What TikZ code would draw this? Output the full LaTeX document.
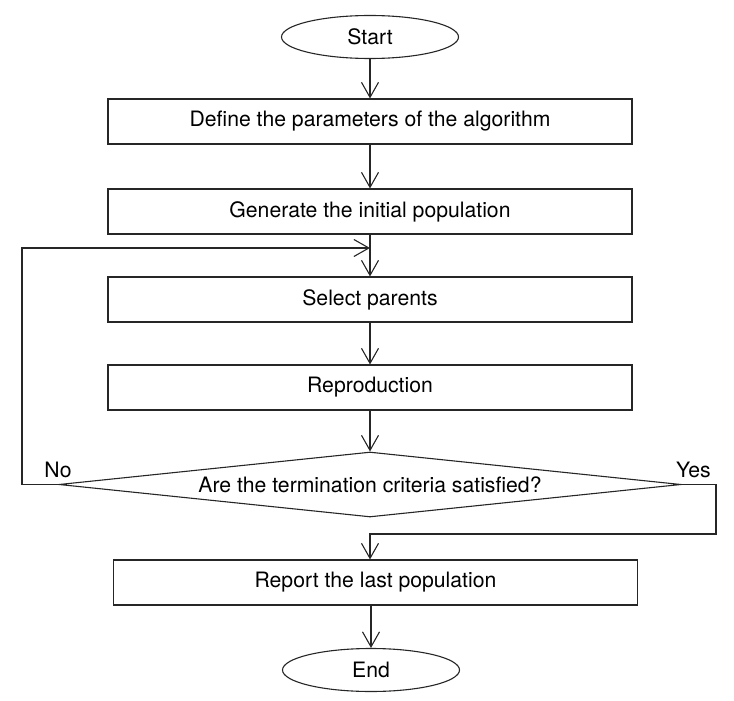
\documentclass[tikz,border=0pt]{standalone}
\usepackage{fontspec}
\setmainfont{TeX Gyre Heros}
\usetikzlibrary{arrows.meta,shapes.geometric}
\tikzset{>={Straight Barb[length=15pt,width=17pt]}}

\begin{document}
\begin{tikzpicture}[x=1pt,y=-1pt,line width=1.1pt,draw=black!85,
  font=\fontsize{21.2}{25}\selectfont,
  term/.style={draw,ellipse,minimum width=177pt,minimum height=43pt,inner sep=0pt},
  stepbox/.style={draw,rectangle,minimum width=524pt,minimum height=45pt,inner sep=0pt},
  test/.style={draw,diamond,shape aspect=10,minimum width=622pt,minimum height=65pt,inner sep=0pt}]
\useasboundingbox (0,0) rectangle (734,701);
\node[term] (start) at (370,37) {Start};
\node[stepbox] (define) at (370,121.5) {Define the parameters of the algorithm};
\node[stepbox] (generate) at (370,211.5) {Generate the initial population};
\node[stepbox] (select) at (370,299.5) {Select parents};
\node[stepbox] (repro) at (370,387.5) {Reproduction};
\node[test] (crit) at (370,484.5) {Are the termination criteria satisfied?};
\node[stepbox] (report) at (375.5,582.5) {Report the last population};
\node[term] (end) at (371,670) {End};
\node (no) at (58,470) {No};
\node (yes) at (693.5,470) {Yes};
\coordinate (noleft) at (22,248);
\coordinate (merge) at (370,248);
\coordinate (yesright) at (716,534);
\coordinate (rejoin) at (370,534);
\draw[->] (start) -- (define);
\draw[->] (define) -- (generate);
\draw[->] (generate) -- (select);
\draw[->] (select) -- (repro);
\draw[->] (repro) -- (crit);
\draw[->] (crit.west) -| (noleft) -- (merge);
\draw[->] (crit.east) -| (yesright) -- (rejoin) -- (rejoin |- report.north);
\draw[->] (end.north |- report.south) -- (end);
\end{tikzpicture}
\end{document}
